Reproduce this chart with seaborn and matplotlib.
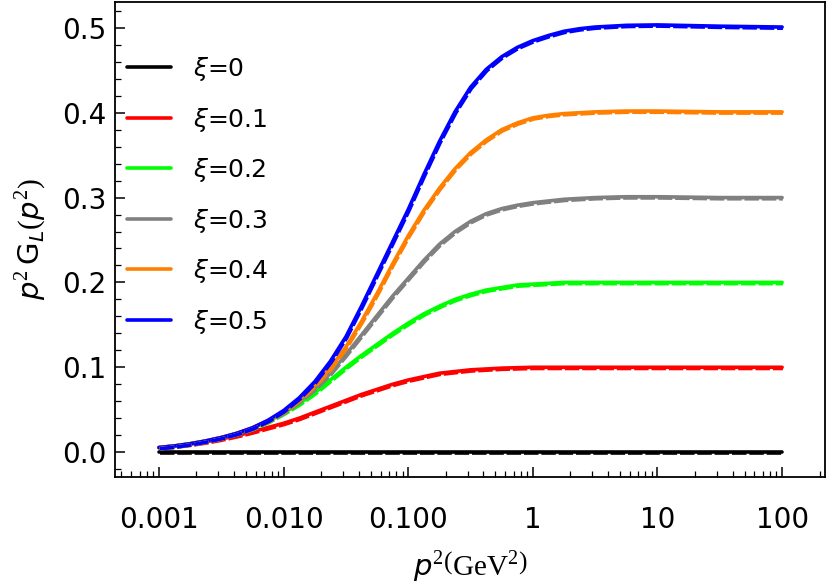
import matplotlib
matplotlib.use("Agg")
import matplotlib.pyplot as plt
import matplotlib.transforms as mtransforms
from matplotlib.ticker import MultipleLocator, LogLocator, NullFormatter
import seaborn as sns
import pandas as pd

# momentum grid p^2 (GeV^2), eighth decades through the rise
p2 = [0.001, 0.001334, 0.001778, 0.002371, 0.003162, 0.004217, 0.005623, 0.007499,
      0.01, 0.01334, 0.01778, 0.02371, 0.03162, 0.04217, 0.05623, 0.07499,
      0.1, 0.1334, 0.1778, 0.2371, 0.3162, 0.4217, 0.5623, 0.7499,
      1.0, 1.334, 1.778, 2.371, 3.162, 5.623, 10.0, 31.62, 100.0]

# p^2 G_L(p^2), one list per xi
g_xi0 = [0.0] * len(p2)
g_xi1 = [0.0053, 0.0071, 0.0094, 0.0121, 0.0155, 0.0195, 0.0240, 0.0290,
         0.034, 0.040, 0.047, 0.054, 0.061, 0.068, 0.074, 0.080,
         0.085, 0.089, 0.093, 0.095, 0.097, 0.098, 0.099, 0.0995,
         0.100, 0.100, 0.100, 0.100, 0.100, 0.100, 0.100, 0.100, 0.100]
g_xi2 = [0.0054, 0.0073, 0.0098, 0.0130, 0.0170, 0.0219, 0.0280, 0.0360,
         0.046, 0.057, 0.070, 0.085, 0.100, 0.114, 0.127, 0.140,
         0.152, 0.163, 0.172, 0.180, 0.186, 0.191, 0.194, 0.197,
         0.198, 0.199, 0.200, 0.200, 0.200, 0.200, 0.200, 0.200, 0.200]
g_xi3 = [0.0054, 0.0073, 0.0098, 0.0131, 0.0171, 0.0221, 0.0284, 0.0368,
         0.047, 0.060, 0.075, 0.093, 0.115, 0.138, 0.161, 0.184,
         0.205, 0.226, 0.245, 0.260, 0.272, 0.281, 0.287, 0.291,
         0.294, 0.296, 0.298, 0.299, 0.300, 0.301, 0.301, 0.300, 0.300]
g_xi4 = [0.0054, 0.0073, 0.0099, 0.0132, 0.0172, 0.0222, 0.0286, 0.0372,
         0.048, 0.062, 0.079, 0.099, 0.124, 0.154, 0.187, 0.222,
         0.255, 0.285, 0.311, 0.334, 0.353, 0.368, 0.380, 0.388,
         0.394, 0.397, 0.399, 0.400, 0.401, 0.402, 0.402, 0.401, 0.401]
g_xi5 = [0.0054, 0.0073, 0.0099, 0.0132, 0.0172, 0.0222, 0.0287, 0.0375,
         0.049, 0.064, 0.083, 0.107, 0.136, 0.172, 0.210, 0.248,
         0.286, 0.327, 0.366, 0.401, 0.430, 0.451, 0.466, 0.477,
         0.485, 0.491, 0.496, 0.499, 0.501, 0.503, 0.5035, 0.502, 0.501]

labels = [r"$\xi$=0", r"$\xi$=0.1", r"$\xi$=0.2",
          r"$\xi$=0.3", r"$\xi$=0.4", r"$\xi$=0.5"]
colors = ["black", "red", "#00ff00", "gray", "#ff8000", "blue"]

x_ticks = [0.001, 0.01, 0.1, 1, 10, 100]
x_ticklabels = ["0.001", "0.010", "0.100", "1", "10", "100"]
y_ticks = [0.0, 0.1, 0.2, 0.3, 0.4, 0.5]
y_ticklabels = ["0.0", "0.1", "0.2", "0.3", "0.4", "0.5"]

series = [g_xi0, g_xi1, g_xi2, g_xi3, g_xi4, g_xi5]
df = pd.concat(
    [pd.DataFrame({"p2": p2, "g": s, "xi": lab}) for s, lab in zip(series, labels)],
    ignore_index=True
)

sns.set_style("ticks")
plt.rcParams["font.family"] = ["DejaVu Sans"]
plt.rcParams["mathtext.fontset"] = "custom"
plt.rcParams["mathtext.rm"] = "Liberation Serif"
plt.rcParams["mathtext.it"] = "DejaVu Sans:italic"
plt.rcParams["mathtext.sf"] = "DejaVu Sans"
for key in ["text.color", "axes.labelcolor", "xtick.color", "ytick.color"]:
    plt.rcParams[key] = "black"

fig, ax = plt.subplots(figsize=(8.3, 5.88), dpi=100)
fig.subplots_adjust(left=0.1386, right=0.994, bottom=0.1888, top=0.9966)

palette = dict(zip(labels, colors))

# solid curves
sns.lineplot(data=df, x="p2", y="g", hue="xi", palette=palette,
             hue_order=labels, linewidth=2.6, ax=ax, legend=True)
n_solid = len(ax.lines)

# dashed companions, nudged slightly
sns.lineplot(data=df, x="p2", y="g", hue="xi", palette=palette,
             hue_order=labels, linewidth=2.6, ax=ax, legend=False)
shift = mtransforms.offset_copy(ax.transData, fig=fig, x=0.8, y=-1.2, units="dots")
for ln in ax.lines[n_solid:]:
    ln.set_transform(shift)
    ln.set_dashes([4, 0.8])

ax.set_xscale("log")
ax.set_xlim(4.44e-4, 221)
ax.set_ylim(-0.0293, 0.5305)

ax.set_xticks(x_ticks)
ax.set_xticklabels(x_ticklabels)
ax.xaxis.set_minor_locator(LogLocator(base=10, subs=range(2, 10), numticks=20))
ax.xaxis.set_minor_formatter(NullFormatter())
ax.set_yticks(y_ticks)
ax.set_yticklabels(y_ticklabels)
ax.yaxis.set_minor_locator(MultipleLocator(0.02))

ax.tick_params(which="major", direction="in", length=7, width=1.1,
               labelsize=20, top=False, right=False)
ax.tick_params(axis="x", which="major", pad=21)
ax.tick_params(axis="y", which="major", pad=6.5)
ax.tick_params(which="minor", direction="in", length=4, width=0.9,
               top=False, right=False)
for sp in ax.spines.values():
    sp.set_linewidth(1.3)
    sp.set_color("black")

ax.set_xlabel(r"$p^2\left(\mathrm{GeV}^2\right)$", fontsize=21, labelpad=10)
ax.set_ylabel(r"$p^2\,\mathsf{G}_L(p^2)$", fontsize=21, labelpad=10)

leg = ax.legend(loc="upper left", bbox_to_anchor=(0.017, 0.888), frameon=False,
                fontsize=18, handlelength=1.76, handletextpad=0.88,
                labelspacing=0.9, borderpad=0, borderaxespad=0)
for h in leg.get_lines():
    h.set_linewidth(2.6)

fig.savefig("out.png", dpi=100)
